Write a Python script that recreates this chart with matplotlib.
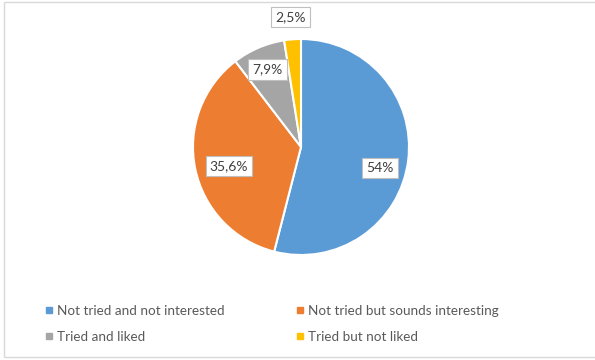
import matplotlib.pyplot as plt
import numpy as np
from matplotlib.lines import Line2D
from matplotlib.patches import Rectangle

# --- data ---
categories = [
    "Not tried and not interested",
    "Not tried but sounds interesting",
    "Tried and liked",
    "Tried but not liked",
]
shares = [54.0, 35.6, 7.9, 2.5]
share_labels = ["54%", "35,6%", "7,9%", "2,5%"]
colors = ["#5B9BD5", "#ED7D31", "#A5A5A5", "#FFC000"]
# label placement: radius (fraction of pie radius) and angular nudge in degrees
label_radius = [0.76, 0.69, 0.78, 1.21]
label_shift = [-7.7, 3.3, 0.0, 0.0]

plt.rcParams["font.family"] = ["Lato", "DejaVu Sans"]

W, H = 595, 360
fig = plt.figure(figsize=(W / 100, H / 100), dpi=100)
fig.patch.set_facecolor("white")

# light frame around the chart area (right edge is cropped in the reference)
fig.add_artist(Rectangle((4 / W, 3 / H), (W + 10) / W, (H - 5) / H,
                         transform=fig.transFigure, fill=False,
                         ec="#D9D9D9", lw=1.0))

# pie axes: centre (301, 147) px, radius 108 px
cx, cy, r = 301, 147, 108
ax = fig.add_axes([(cx - r) / W, (H - cy - r) / H, 2 * r / W, 2 * r / H])

wedges, _ = ax.pie(shares, colors=colors, startangle=90, counterclock=False,
                   radius=1.0, wedgeprops=dict(edgecolor="white", linewidth=1.5))
# pie() resets the limits, so set them afterwards
ax.set_xlim(-1, 1)
ax.set_ylim(-1, 1)
ax.set_aspect("equal")
ax.axis("off")

# data labels
total = sum(shares)
start = 90.0
for val, txt, rad, shift in zip(shares, share_labels, label_radius, label_shift):
    span = 360.0 * val / total
    mid = np.deg2rad(start - span / 2 + shift)
    start -= span
    ax.text(rad * np.cos(mid), rad * np.sin(mid), txt,
            ha="center", va="center", fontsize=10, color="#404040",
            bbox=dict(boxstyle="square,pad=0.3", fc="white", ec="#BFBFBF", lw=0.8))

# legend, filled row by row like the reference
handles = [Line2D([], [], marker="s", linestyle="none", markersize=5,
                  markerfacecolor=c, markeredgecolor=c) for c in colors]
order = [0, 2, 1, 3]
leg = fig.legend([handles[i] for i in order], [categories[i] for i in order],
                 ncol=2, loc="center left",
                 bbox_to_anchor=(33 / W, 1 - 324 / H), frameon=False,
                 fontsize=9.7, labelcolor="#595959", handlelength=0.6,
                 handletextpad=0.3, columnspacing=5.3, labelspacing=1.05)

fig.savefig("out.png", dpi=100, facecolor="white")
